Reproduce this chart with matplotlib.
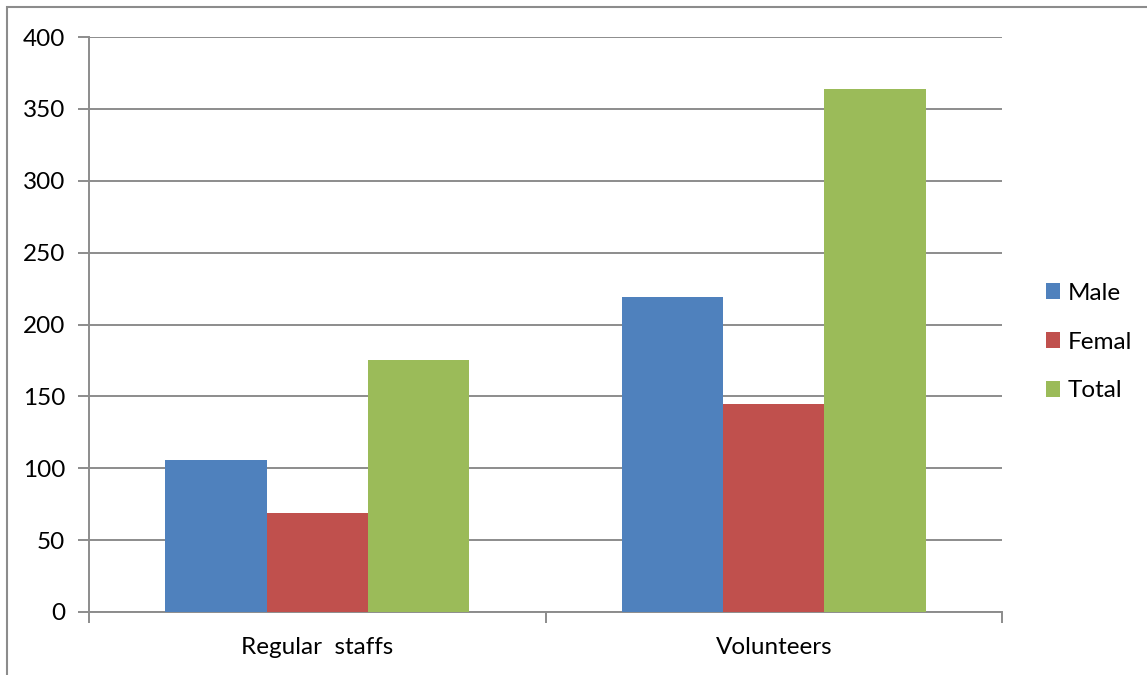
import matplotlib
matplotlib.use("Agg")
import matplotlib.pyplot as plt
from matplotlib.patches import Rectangle, Patch
import numpy as np

categories = ["Regular  staffs", "Volunteers"]
series_names = ["Male", "Femal", "Total"]
male = [106, 219]
femal = [69, 145]
total = [175, 364]
series_values = [male, femal, total]
colors = ["#4F81BD", "#C0504D", "#9BBB59"]
yticks = [0, 50, 100, 150, 200, 250, 300, 350, 400]

plt.rcParams['font.family'] = ['Lato', 'DejaVu Sans']
fig = plt.figure(figsize=(11.47, 6.75), dpi=100)
ax = fig.add_axes([89/1147, 1-612/675, (1002-89)/1147, (612-37)/675])

FS = 17.5
grid_c = "#8C8C8C"
w = 1/4.5
x = np.arange(len(categories))
for i, (name, vals, c) in enumerate(zip(series_names, series_values, colors)):
    ax.bar(x + (i-1)*w, vals, width=w, color=c, label=name, zorder=3)

ax.set_xlim(-0.5, len(categories)-0.5)
ax.set_ylim(0, 400)
ax.set_yticks(yticks)
ax.set_yticklabels([str(v) for v in yticks], fontsize=FS)
ax.yaxis.grid(True, color=grid_c, linewidth=1.4, zorder=0)
ax.set_axisbelow(True)

ax.set_xticks(x)
ax.set_xticklabels(categories, fontsize=FS)
ax.tick_params(axis='x', length=0, pad=18)
ax.set_xticks(np.arange(-0.5, len(categories), 1.0), minor=True)
ax.tick_params(axis='x', which='minor', length=8, color=grid_c, width=1.4)
ax.tick_params(axis='y', length=8, color=grid_c, width=1.4, pad=9)

for s in ['top', 'right']:
    ax.spines[s].set_visible(False)
for s in ['left', 'bottom']:
    ax.spines[s].set_color(grid_c)
    ax.spines[s].set_linewidth(1.4)

handles = [Patch(facecolor=c, edgecolor='none') for c in colors]
fig.legend(handles, series_names, loc='center left',
           bbox_to_anchor=(1036/1147, 1-342/675), frameon=False,
           fontsize=FS, handlelength=0.6, handleheight=0.6,
           handletextpad=0.3, labelspacing=1.15, borderaxespad=0)

fig.patches.append(Rectangle((7/1147, -0.1), 1.2, 1-7/675+0.1,
                             transform=fig.transFigure, fill=False,
                             edgecolor="#8C8C8C", linewidth=1.5))

fig.savefig("out.png", dpi=100)
